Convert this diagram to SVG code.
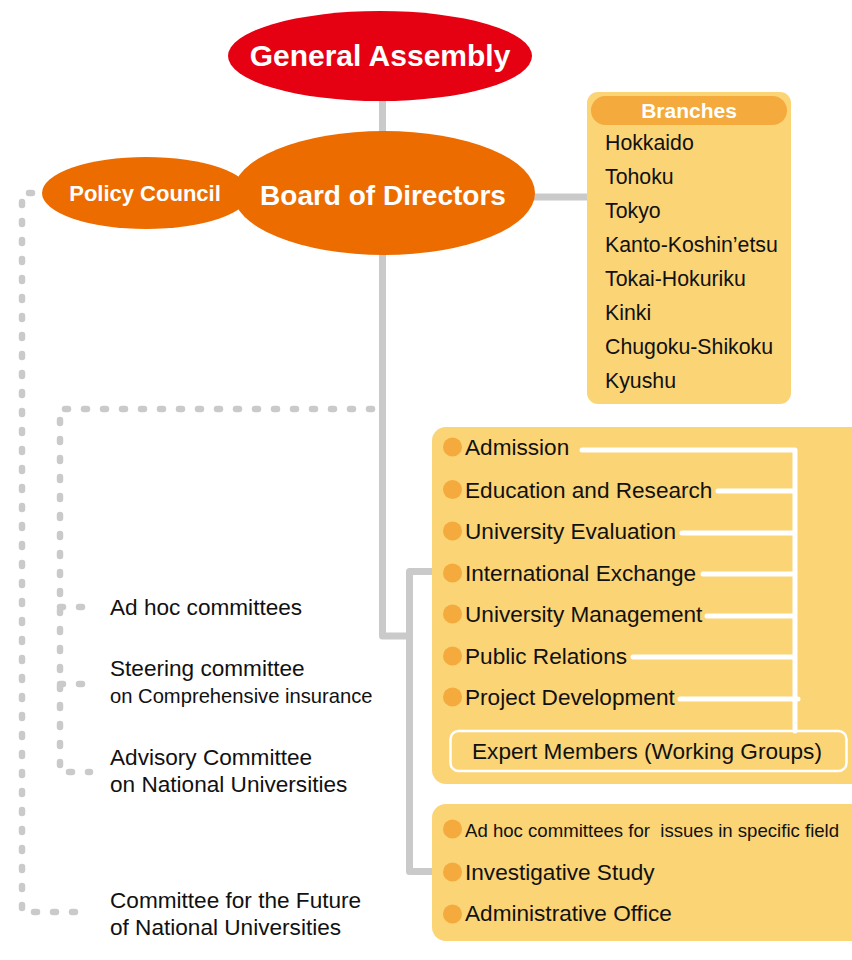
<svg xmlns="http://www.w3.org/2000/svg" width="852" height="960" viewBox="0 0 852 960">
<style>
text{font-family:"Liberation Sans",Arial,sans-serif;fill:#111}
.t{font-size:22.6px}
.s{font-size:20.2px}
.b{font-size:21.3px}
.w{fill:#fff;font-weight:bold}
.solid{fill:none;stroke:#cacaca;stroke-width:7;stroke-linejoin:round}
.dot{fill:none;stroke:#cacaca;stroke-width:6.5;stroke-linecap:round;stroke-dasharray:3 16}
.box{fill:#fbd476}
.bul{fill:#f4aa3c}
.wl{fill:none;stroke:#fff;stroke-width:5;stroke-linecap:round}
</style>
<rect width="852" height="960" fill="#fff"/>
<g id="connectors">
<path class="solid" d="M382.5 95 V636 H409.5"/>
<path class="solid" d="M432 571.5 H409.5 V871.5 H432"/>
<path class="solid" d="M530 197 H590"/>
<path class="dot" d="M32 193 H22 V912 H90"/>
<path class="dot" d="M372 409 H60 V772 H90"/>
<path class="dot" d="M60 607 H90"/>
<path class="dot" d="M60 684 H90"/>
</g>
<g id="general-assembly">
<ellipse cx="380" cy="56" rx="152" ry="45" fill="#e50012"/>
<text class="w" x="380" y="66" font-size="30" text-anchor="middle">General Assembly</text>
</g>
<g id="policy-council">
<ellipse cx="146" cy="193" rx="104" ry="36" fill="#ec6c00"/>
<text class="w" x="145" y="201" font-size="22" text-anchor="middle">Policy Council</text>
</g>
<g id="board-of-directors">
<ellipse cx="384" cy="193" rx="151" ry="62" fill="#ec6c00"/>
<text class="w" x="383" y="205" font-size="28" text-anchor="middle">Board of Directors</text>
</g>
<g id="branches">
<rect class="box" x="587" y="92" width="204" height="312" rx="11"/>
<rect x="591" y="96" width="196" height="29" rx="14.5" fill="#f4aa3c"/>
<text class="w" x="689" y="118" font-size="21" text-anchor="middle">Branches</text>
<text class="b" x="605" y="150">Hokkaido</text>
<text class="b" x="605" y="184">Tohoku</text>
<text class="b" x="605" y="218">Tokyo</text>
<text class="b" x="605" y="252">Kanto-Koshin’etsu</text>
<text class="b" x="605" y="286">Tokai-Hokuriku</text>
<text class="b" x="605" y="320">Kinki</text>
<text class="b" x="605" y="354">Chugoku-Shikoku</text>
<text class="b" x="605" y="388">Kyushu</text>
</g>
<g id="committees">
<rect class="box" x="432" y="427" width="440" height="357" rx="14"/>
<path class="wl" d="M582 450 H795 M718 491 H795 M682 533 H795 M703 574 H795 M707 616 H795 M633 657 H795 M680 699 H798 M795 450 V731"/>
<circle class="bul" cx="452.5" cy="447" r="9.5"/>
<circle class="bul" cx="452.5" cy="489.5" r="9.5"/>
<circle class="bul" cx="452.5" cy="531" r="9.5"/>
<circle class="bul" cx="452.5" cy="573" r="9.5"/>
<circle class="bul" cx="452.5" cy="614" r="9.5"/>
<circle class="bul" cx="452.5" cy="656" r="9.5"/>
<circle class="bul" cx="452.5" cy="697" r="9.5"/>
<text class="t" x="465" y="455">Admission</text>
<text class="t" x="465" y="498">Education and Research</text>
<text class="t" x="465" y="539">University Evaluation</text>
<text class="t" x="465" y="581">International Exchange</text>
<text class="t" x="465" y="622">University Management</text>
<text class="t" x="465" y="664">Public Relations</text>
<text class="t" x="465" y="705">Project Development</text>
<rect x="450.5" y="731" width="396" height="40" rx="8" fill="none" stroke="#fff" stroke-width="2.5"/>
<text class="t" x="647" y="759" text-anchor="middle">Expert Members (Working Groups)</text>
</g>
<g id="office">
<rect class="box" x="432" y="804" width="440" height="137" rx="14"/>
<circle class="bul" cx="452.5" cy="829" r="9.5"/>
<circle class="bul" cx="452.5" cy="872" r="9.5"/>
<circle class="bul" cx="452.5" cy="914" r="9.5"/>
<text x="465" y="837" font-size="18.6" style="white-space:pre">Ad hoc committees for  issues in specific field</text>
<text class="t" x="465" y="880">Investigative Study</text>
<text class="t" x="465" y="921">Administrative Office</text>
</g>
<g id="ad-hoc"><text class="t" x="110" y="615">Ad hoc committees</text></g>
<g id="steering"><text class="t" x="110" y="676">Steering committee</text><text class="s" x="110" y="703">on Comprehensive insurance</text></g>
<g id="advisory"><text class="t" x="110" y="765">Advisory Committee</text><text class="t" x="110" y="792">on National Universities</text></g>
<g id="future"><text class="t" x="110" y="908">Committee for the Future</text><text class="t" x="110" y="935">of National Universities</text></g>
</svg>
